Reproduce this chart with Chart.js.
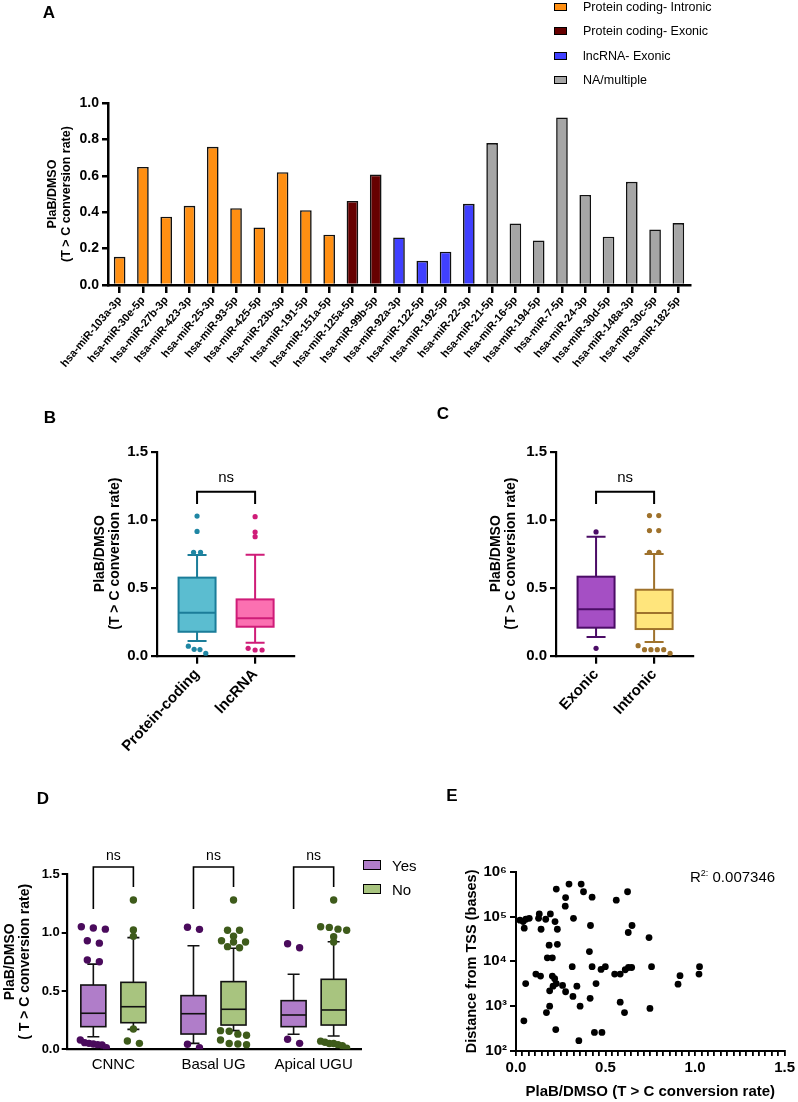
<!DOCTYPE html>
<html>
<head>
<meta charset="utf-8">
<script src="https://cdn.jsdelivr.net/npm/chart.js@4.4.0/dist/chart.umd.min.js"></script>
<style>
  body { margin: 0; background: #fff; font-family: 'Liberation Sans', Arial, sans-serif; }
  #fig { position: relative; width: 798px; height: 1102px; overflow: hidden; }
  canvas { position: absolute; }
  .panel { position: absolute; font-weight: bold; font-size: 17px; transform: translate(-50%, -50%); }
  .leg { position: absolute; display: flex; align-items: center; white-space: nowrap; }
  .sw { display: inline-block; border: 1.2px solid #000; box-sizing: border-box; }
  #r2 { position: absolute; left: 690px; top: 868px; font-size: 15px; }
  #r2 sup { font-size: 9px; }
</style>
</head>
<body>
<div id="fig">
  <canvas id="chartA" style="left:0;top:0" width="798" height="370"></canvas>
  <canvas id="chartB" style="left:0;top:380px" width="400" height="390"></canvas>
  <canvas id="chartC" style="left:400px;top:380px" width="398" height="390"></canvas>
  <canvas id="chartD" style="left:0;top:820px" width="420" height="282"></canvas>
  <canvas id="chartE" style="left:420px;top:820px" width="378" height="282"></canvas>
  <div class="panel" style="left:49px;top:13px">A</div>
  <div class="panel" style="left:50px;top:418px">B</div>
  <div class="panel" style="left:443px;top:414px">C</div>
  <div class="panel" style="left:43px;top:799px">D</div>
  <div class="panel" style="left:452px;top:796px">E</div>
  <div id="r2">R<sup>2:</sup> 0.007346</div>
</div>
<script>
// ---- panel A: miRNA bars ----
const mirLabels = ['hsa-miR-103a-3p', 'hsa-miR-30e-5p', 'hsa-miR-27b-3p', 'hsa-miR-423-3p', 'hsa-miR-25-3p',
  'hsa-miR-93-5p', 'hsa-miR-425-5p', 'hsa-miR-23b-3p', 'hsa-miR-191-5p', 'hsa-miR-151a-5p',
  'hsa-miR-125a-5p', 'hsa-miR-99b-5p', 'hsa-miR-92a-3p', 'hsa-miR-122-5p', 'hsa-miR-192-5p',
  'hsa-miR-22-3p', 'hsa-miR-21-5p', 'hsa-miR-16-5p', 'hsa-miR-194-5p', 'hsa-miR-7-5p',
  'hsa-miR-24-3p', 'hsa-miR-30d-5p', 'hsa-miR-148a-3p', 'hsa-miR-30c-5p', 'hsa-miR-182-5p'];
const mirValues = [0.155, 0.649, 0.375, 0.435, 0.759, 0.422, 0.316, 0.62, 0.411, 0.276,
  0.462, 0.607, 0.261, 0.133, 0.183, 0.446, 0.78, 0.338, 0.245, 0.921,
  0.495, 0.265, 0.567, 0.305, 0.34];
const mirGroup = [0, 0, 0, 0, 0, 0, 0, 0, 0, 0, 1, 1, 2, 2, 2, 2, 3, 3, 3, 3, 3, 3, 3, 3, 3];
const groupNames = ['Protein coding- Intronic', 'Protein coding- Exonic', 'lncRNA- Exonic', 'NA/multiple'];
const groupColors = ['#ff8f12', '#660000', '#4040ff', '#a6a6a6'];

// ---- panel B: host gene type ----
const bCats = ['Protein-coding', 'lncRNA'];
const bQ1 = [0.176, 0.213];
const bMed = [0.316, 0.275];
const bQ3 = [0.574, 0.414];
const bLo = [0.108, 0.096];
const bHi = [0.74, 0.743];
const bOutliers = [
  [1.027, 0.914, 0.76, 0.76, 0.07, 0.047, 0.045, 0.017],
  [1.022, 0.909, 0.875, 0.054, 0.042, 0.042]
];

// ---- panel C: exonic / intronic ----
const cCats = ['Exonic', 'Intronic'];
const cQ1 = [0.206, 0.196];
const cMed = [0.341, 0.314];
const cQ3 = [0.581, 0.485];
const cLo = [0.137, 0.1];
const cHi = [0.875, 0.748];
const cOutliers = [
  [0.91, 0.054],
  [1.03, 1.03, 0.92, 0.92, 0.76, 0.76, 0.074, 0.044, 0.044, 0.044, 0.044, 0.017]
];

// ---- panel D: motifs, Yes / No ----
const dCats = ['CNNC', 'Basal UG', 'Apical UGU'];
const dYesQ1 = [0.194, 0.131, 0.194];
const dYesMed = [0.309, 0.305, 0.294];
const dYesQ3 = [0.551, 0.46, 0.417];
const dYesLo = [0.108, 0.051, 0.129];
const dYesHi = [0.73, 0.888, 0.643];
const dNoQ1 = [0.228, 0.208, 0.208];
const dNoMed = [0.365, 0.343, 0.337];
const dNoQ3 = [0.574, 0.58, 0.6];
const dNoLo = [0.171, 0.16, 0.114];
const dNoHi = [0.957, 0.866, 0.922];
const dYesOutliers = [
  [1.05, 1.04, 1.03, 0.93, 0.91, 0.765, 0.75, 0.08, 0.057, 0.051, 0.045, 0.04, 0.037, 0.014],
  [1.046, 1.028, 0.043, 0.014],
  [0.905, 0.871, 0.086, 0.051]
];
const dNoOutliers = [
  [1.28, 1.023, 0.968, 0.174, 0.071, 0.051],
  [1.28, 1.02, 1.02, 0.97, 0.93, 0.92, 0.92, 0.88, 0.87, 0.16, 0.155, 0.13, 0.12, 0.08, 0.05, 0.045, 0.04],
  [1.28, 1.05, 1.045, 1.03, 1.02, 0.965, 0.92, 0.07, 0.06, 0.05, 0.05, 0.04, 0.03, 0.01]
];

// ---- panel E: distance from TSS ----
const eX = [0.022, 0.04, 0.046, 0.055, 0.074, 0.126, 0.13, 0.14, 0.166, 0.192,
  0.218, 0.231, 0.225, 0.277, 0.275, 0.296, 0.321, 0.364, 0.377, 0.425,
  0.416, 0.56, 0.623, 0.627, 0.648, 0.743, 0.185, 0.231, 0.175, 0.203,
  0.41, 0.314, 0.425, 0.475, 0.499, 0.551, 0.582, 0.61, 0.628, 0.646,
  0.757, 0.916, 0.905, 1.025, 1.022, 0.111, 0.137, 0.203, 0.216, 0.225,
  0.207, 0.188, 0.26, 0.277, 0.34, 0.318, 0.447, 0.414, 0.054, 0.188,
  0.358, 0.17, 0.582, 0.606, 0.748, 0.044, 0.222, 0.438, 0.48, 0.351];
const eY = [83000, 77000, 55000, 87000, 91000, 91000, 114000, 52000, 87000, 114000,
  77000, 52000, 410000, 265000, 170000, 530000, 91000, 530000, 357000, 270000,
  63000, 232000, 357000, 44000, 63000, 34000, 23000, 24000, 12000, 12000,
  16500, 7600, 7600, 6600, 7600, 5200, 5200, 6500, 7300, 7300,
  7600, 4800, 3100, 7600, 5200, 5200, 4700, 4700, 4100, 3200,
  2800, 2200, 2900, 2100, 2800, 1650, 3200, 1500, 3200, 1000,
  1000, 720, 1230, 720, 890, 470, 300, 260, 260, 170];
const eR2 = 0.007346;

Chart.defaults.font.family = "'Liberation Sans', Arial, sans-serif";
Chart.defaults.color = '#000';
Chart.defaults.animation = false;
Chart.defaults.plugins.legend.display = false;
Chart.defaults.plugins.tooltip.enabled = false;

const FONT = "'Liberation Sans', Arial, sans-serif";

// spread outliers with close values side by side, like the dot plots in the figure
function spread(vals, x0, tol, gapMax, spanMax) {
  const sorted = vals.slice().sort((a, b) => b - a);
  const pts = [];
  let group = [];
  const flush = () => {
    const n = group.length;
    const gap = n > 1 ? Math.min(gapMax, spanMax / (n - 1)) : 0;
    group.forEach((v, i) => pts.push({ x: x0 + (i - (n - 1) / 2) * gap, y: v }));
    group = [];
  };
  sorted.forEach(v => {
    if (group.length && group[group.length - 1] - v > tol) flush();
    group.push(v);
  });
  flush();
  return pts;
}

// box + whiskers drawn from the chart scales
function boxLayer(items, st) {
  return {
    id: 'boxes',
    beforeDatasetsDraw(chart) {
      const { ctx, scales: { x, y } } = chart;
      ctx.save();
      ctx.lineWidth = st.lineWidth;
      items.forEach(b => {
        const cx = x.getPixelForValue(b.x);
        const hw = st.width / 2, cw = st.cap / 2;
        const yTop = y.getPixelForValue(b.q3), yBot = y.getPixelForValue(b.q1);
        const yHi = y.getPixelForValue(b.hi), yLo = y.getPixelForValue(b.lo);
        ctx.strokeStyle = b.stroke;
        ctx.beginPath();
        ctx.moveTo(cx, yHi); ctx.lineTo(cx, yTop);
        ctx.moveTo(cx, yBot); ctx.lineTo(cx, yLo);
        ctx.moveTo(cx - cw, yHi); ctx.lineTo(cx + cw, yHi);
        ctx.moveTo(cx - cw, yLo); ctx.lineTo(cx + cw, yLo);
        ctx.stroke();
        ctx.fillStyle = b.fill;
        ctx.fillRect(cx - hw, yTop, 2 * hw, yBot - yTop);
        ctx.strokeRect(cx - hw, yTop, 2 * hw, yBot - yTop);
        const ym = y.getPixelForValue(b.med);
        ctx.beginPath();
        ctx.moveTo(cx - hw, ym); ctx.lineTo(cx + hw, ym);
        ctx.stroke();
      });
      ctx.restore();
    }
  };
}

// significance brackets with "ns"
function bracketLayer(list, st) {
  return {
    id: 'brackets',
    afterDraw(chart) {
      const { ctx, scales: { x, y } } = chart;
      ctx.save();
      ctx.strokeStyle = '#000';
      ctx.lineWidth = st.lineWidth;
      ctx.fillStyle = '#000';
      ctx.font = st.size + 'px ' + FONT;
      ctx.textAlign = 'center';
      ctx.textBaseline = 'middle';
      list.forEach(b => {
        const x1 = x.getPixelForValue(b.x1), x2 = x.getPixelForValue(b.x2);
        const yt = y.getPixelForValue(b.top);
        ctx.beginPath();
        ctx.moveTo(x1, y.getPixelForValue(b.left));
        ctx.lineTo(x1, yt);
        ctx.lineTo(x2, yt);
        ctx.lineTo(x2, y.getPixelForValue(b.right));
        ctx.stroke();
        ctx.fillText(b.label, (x1 + x2) / 2, y.getPixelForValue(b.text));
      });
      ctx.restore();
    }
  };
}

const tickGrid = (len, w) => ({ display: true, drawOnChartArea: false, color: '#000', lineWidth: w, tickLength: len, offset: false });
const axisBorder = w => ({ color: '#000', width: w });

// ---------- A ----------
new Chart(document.getElementById('chartA'), {
  type: 'bar',
  data: {
    labels: mirLabels,
    datasets: [{
      data: mirValues,
      backgroundColor: mirGroup.map(g => groupColors[g]),
      borderColor: '#111',
      borderWidth: 1.6,
      barPercentage: 0.5,
      categoryPercentage: 1
    }]
  },
  options: {
    responsive: false,
    layout: { padding: { left: 0, top: 103, right: 108, bottom: 0 } },
    scales: {
      x: {
        grid: tickGrid(8, 2.5),
        border: axisBorder(2.5),
        ticks: { autoSkip: false, minRotation: 50, maxRotation: 50, padding: 1, font: { size: 11, weight: 'bold' } },
        afterFit: s => { s.height = 85; }
      },
      y: {
        min: 0, max: 1,
        grid: tickGrid(6, 2.5),
        border: axisBorder(2.5),
        ticks: { stepSize: 0.2, padding: 3, font: { size: 14, weight: 'bold' }, callback: v => Number(v).toFixed(1) },
        title: { display: true, text: ['PlaB/DMSO', '(T > C conversion rate)'], font: { size: 12.5, weight: 'bold', lineHeight: 1.1 }, padding: { top: 45.6, bottom: 0 } },
        afterFit: s => { s.width = 108; }
      }
    }
  }
});

// legend A
groupNames.forEach((name, i) => {
  const row = document.createElement('div');
  row.className = 'leg';
  row.style.left = '554px';
  row.style.top = (7 + i * 24.3 - 8) + 'px';
  row.style.height = '16px';
  row.style.fontSize = '12.5px';
  row.innerHTML = '<span class="sw" style="width:13px;height:8px;background:' + groupColors[i] + '"></span>' +
    '<span style="margin-left:16px">' + name + '</span>';
  document.getElementById('fig').appendChild(row);
});

// ---------- B and C ----------
function twoBoxChart(id, cats, q1, med, q3, lo, hi, outliers, fills, strokes, dotColors, st) {
  const items = cats.map((c, i) => ({ x: i, q1: q1[i], med: med[i], q3: q3[i], lo: lo[i], hi: hi[i], fill: fills[i], stroke: strokes[i] }));
  const datasets = outliers.map((vals, i) => ({
    data: spread(vals, i, 0.03, st.gap, st.span),
    backgroundColor: dotColors[i],
    borderWidth: 0,
    pointRadius: 2.6
  }));
  new Chart(document.getElementById(id), {
    type: 'scatter',
    data: { datasets },
    options: {
      responsive: false,
      layout: { padding: { left: 0, top: 71.7, right: st.right, bottom: 0 } },
      scales: {
        x: {
          type: 'linear', min: -0.69, max: 1.67,
          afterBuildTicks: s => { s.ticks = cats.map((c, i) => ({ value: i })); },
          grid: tickGrid(8, 2.2),
          border: axisBorder(2.2),
          ticks: { autoSkip: false, minRotation: 47, maxRotation: 47, padding: 2, font: { size: 15, weight: 'bold' }, callback: v => cats[v] },
          afterFit: s => { s.height = 114.3; }
        },
        y: {
          min: 0, max: 1.5,
          grid: tickGrid(6, 2.2),
          border: axisBorder(2.2),
          ticks: { stepSize: 0.5, padding: 3, font: { size: 15, weight: 'bold' }, callback: v => Number(v).toFixed(1) },
          title: { display: true, text: ['PlaB/DMSO', '(T > C conversion rate)'], font: { size: 14, weight: 'bold', lineHeight: 1.1 }, padding: { top: st.titlePad, bottom: 0 } },
          afterFit: s => { s.width = st.left; }
        }
      }
    },
    plugins: [
      boxLayer(items, { width: 37, cap: 19, lineWidth: 2 }),
      bracketLayer([{ x1: 0, x2: 1, top: 1.206, left: 1.115, right: 1.115, text: 1.31, label: 'ns' }], { lineWidth: 2, size: 15 })
    ]
  });
}

twoBoxChart('chartB', bCats, bQ1, bMed, bQ3, bLo, bHi, bOutliers,
  ['#5bbdd0', '#fb70b1'], ['#1b7d99', '#cf1c78'], ['#1f86a3', '#cf1c78'],
  { left: 157, right: 106, titlePad: 92.3, gap: 0.12, span: 0.3 });

twoBoxChart('chartC', cCats, cQ1, cMed, cQ3, cLo, cHi, cOutliers,
  ['#a54fc4', '#ffe57c'], ['#4b0c66', '#9f722c'], ['#4b0c66', '#9f722c'],
  { left: 156, right: 105, titlePad: 88.3, gap: 0.16, span: 0.55 });

// ---------- D ----------
const dItems = [];
dCats.forEach((c, i) => {
  dItems.push({ x: i - 0.2, q1: dYesQ1[i], med: dYesMed[i], q3: dYesQ3[i], lo: dYesLo[i], hi: dYesHi[i], fill: '#b07dc9', stroke: '#111' });
  dItems.push({ x: i + 0.2, q1: dNoQ1[i], med: dNoMed[i], q3: dNoQ3[i], lo: dNoLo[i], hi: dNoHi[i], fill: '#a8c47f', stroke: '#111' });
});
const dBrackets = dCats.map((c, i) => ({ x1: i - 0.2, x2: i + 0.2, top: 1.5625, left: 1.2025, right: 1.391, text: 1.657, label: 'ns' }));

new Chart(document.getElementById('chartD'), {
  type: 'scatter',
  data: {
    datasets: [
      {
        data: dYesOutliers.flatMap((vals, i) => spread(vals, i - 0.2, 0.035, 0.12, 0.26)),
        backgroundColor: '#4a0b5c', borderWidth: 0, pointRadius: 3.7
      },
      {
        data: dNoOutliers.flatMap((vals, i) => spread(vals, i + 0.2, 0.035, 0.12, 0.26)),
        backgroundColor: '#3e5b1b', borderWidth: 0, pointRadius: 3.7
      }
    ]
  },
  options: {
    responsive: false,
    layout: { padding: { left: 0, top: 54.3, right: 58.3, bottom: 0 } },
    scales: {
      x: {
        type: 'linear', min: -0.466, max: 2.48,
        afterBuildTicks: s => { s.ticks = dCats.map((c, i) => ({ value: i })); },
        grid: { display: false, drawTicks: false },
        border: axisBorder(2.2),
        ticks: { autoSkip: false, maxRotation: 0, padding: 7, font: { size: 15 }, callback: v => dCats[v] },
        afterFit: s => { s.height = 52.7; }
      },
      y: {
        min: 0, max: 1.5,
        grid: tickGrid(5, 2),
        border: axisBorder(2.2),
        ticks: { stepSize: 0.5, padding: 2, font: { size: 13, weight: 'bold' }, callback: v => Number(v).toFixed(1) },
        title: { display: true, text: ['PlaB/DMSO', '( T > C conversion rate)'], font: { size: 14, weight: 'bold', lineHeight: 1.05 }, padding: { top: 2.6, bottom: 0 } },
        afterFit: s => { s.width = 66.7; }
      }
    }
  },
  plugins: [
    boxLayer(dItems, { width: 25, cap: 12, lineWidth: 1.6 }),
    bracketLayer(dBrackets, { lineWidth: 1.6, size: 14 })
  ]
});

// legend D
[['Yes', '#b07dc9'], ['No', '#a8c47f']].forEach(([name, col], i) => {
  const row = document.createElement('div');
  row.className = 'leg';
  row.style.left = '363px';
  row.style.top = (865 + i * 24 - 10) + 'px';
  row.style.height = '20px';
  row.style.fontSize = '15px';
  row.innerHTML = '<span class="sw" style="width:18px;height:10px;border-width:1.6px;background:' + col + '"></span>' +
    '<span style="margin-left:11px">' + name + '</span>';
  document.getElementById('fig').appendChild(row);
});

// ---------- E ----------
const sup = { 2: '\u00b2', 3: '\u00b3', 4: '\u2074', 5: '\u2075', 6: '\u2076' };
const eMinor = 0.5 / 14;
new Chart(document.getElementById('chartE'), {
  type: 'scatter',
  data: {
    datasets: [{
      data: eX.map((x, i) => ({ x, y: eY[i] })),
      backgroundColor: '#000', borderWidth: 0, pointRadius: 3.4
    }]
  },
  options: {
    responsive: false,
    layout: { padding: { left: 0, top: 51.7, right: 11.3, bottom: 0 } },
    scales: {
      x: {
        type: 'linear', min: 0, max: 1.5,
        afterBuildTicks: s => {
          const t = [];
          for (let i = 0; i <= 42; i++) t.push({ value: i * eMinor });
          s.ticks = t;
        },
        grid: tickGrid(5, 1.8),
        border: axisBorder(2),
        ticks: {
          autoSkip: false, maxRotation: 0, padding: 3, font: { size: 15, weight: 'bold' },
          callback: (v, i) => (i % 14 === 0 ? (i / 28).toFixed(1) : '')
        },
        title: { display: true, text: 'PlaB/DMSO (T > C conversion rate)', font: { size: 15, weight: 'bold', lineHeight: 1.2 }, padding: { top: 0, bottom: 1.3 } },
        afterFit: s => { s.height = 51; }
      },
      y: {
        type: 'logarithmic', min: 100, max: 1000000,
        afterBuildTicks: s => { s.ticks = [2, 3, 4, 5, 6].map(p => ({ value: Math.pow(10, p) })); },
        grid: tickGrid(6, 2),
        border: axisBorder(2),
        ticks: { padding: 3, font: { size: 15, weight: 'bold' }, callback: v => '10' + sup[Math.round(Math.log10(v))] },
        title: { display: true, text: 'Distance from TSS (bases)', font: { size: 14.5, weight: 'bold', lineHeight: 1.2 }, padding: { top: 42.8, bottom: 0 } },
        afterFit: s => { s.width = 96; }
      }
    }
  }
});
</script>
</body>
</html>
